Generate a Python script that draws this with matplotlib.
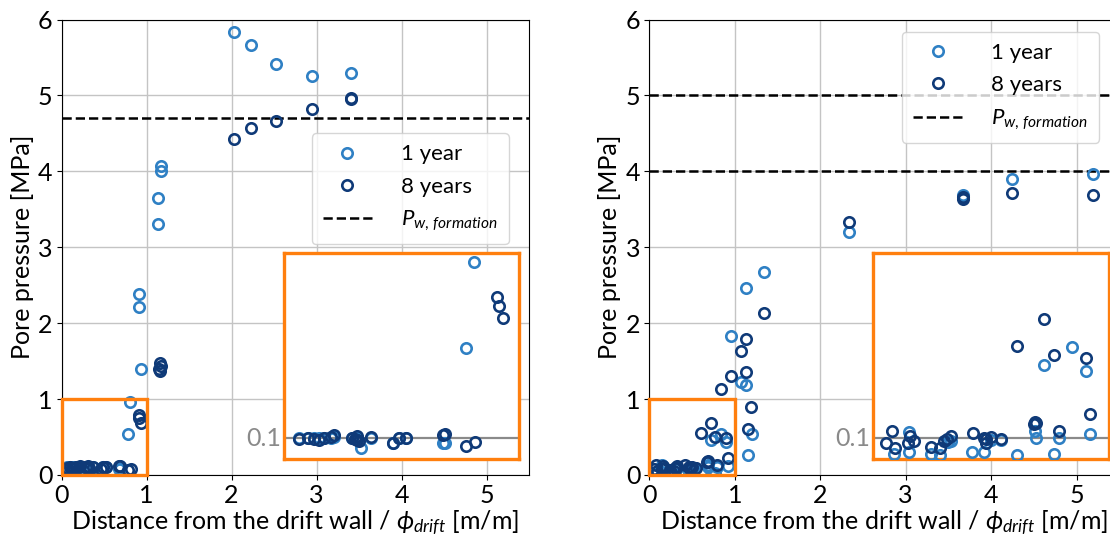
import matplotlib
matplotlib.use('Agg')
import matplotlib.pyplot as plt
from matplotlib.patches import Rectangle
from matplotlib.lines import Line2D

plt.rcParams['font.family'] = ['Lato', 'DejaVu Sans']
plt.rcParams['mathtext.fontset'] = 'custom'
plt.rcParams['mathtext.rm'] = 'Lato'
plt.rcParams['mathtext.it'] = 'Lato:italic'
plt.rcParams['mathtext.fallback'] = 'cm'

# ---------------- data ----------------
# left panel
left_1y_x = [2.03, 2.23, 2.52, 2.95, 3.40, 1.17, 1.17, 1.14, 1.13, 0.91, 0.91, 0.93,
             0.809, 0.776, 0.677, 0.687, 0.328,
             0.064, 0.10, 0.128, 0.15, 0.171, 0.20, 0.214, 0.29, 0.31, 0.37, 0.463, 0.49, 0.52]
left_1y_y = [5.83, 5.66, 5.41, 5.26, 5.30, 4.07, 4.01, 3.65, 3.30, 2.38, 2.21, 1.40,
             0.96, 0.54, 0.078, 0.08, 0.055,
             0.10, 0.10, 0.10, 0.10, 0.10, 0.10, 0.108, 0.10, 0.10, 0.10, 0.08, 0.10, 0.10]
left_8y_x = [2.03, 2.23, 2.52, 2.95, 3.40, 3.40, 1.16, 1.17, 1.15, 1.16,
             0.905, 0.916, 0.933, 0.813, 0.776, 0.677, 0.687,
             0.52, 0.49, 0.463, 0.37, 0.29, 0.30, 0.31, 0.32, 0.31,
             0.214, 0.20, 0.171, 0.15, 0.128, 0.10, 0.064]
left_8y_y = [4.43, 4.57, 4.66, 4.82, 4.97, 4.95, 1.48, 1.44, 1.40, 1.37,
             0.79, 0.745, 0.685, 0.084, 0.063, 0.115, 0.12,
             0.10, 0.10, 0.079, 0.108, 0.10, 0.098, 0.093, 0.088, 0.113,
             0.115, 0.107, 0.10, 0.095, 0.098, 0.10, 0.098]
left_pw = [4.7]

# right panel
right_1y_x = [2.34, 3.67, 4.25, 5.19, 1.345, 1.135, 0.955, 1.07, 1.134, 1.197, 1.15,
              0.841, 0.726, 0.902, 0.921, 0.685, 0.692, 0.789, 0.766, 0.61,
              0.47, 0.42, 0.328, 0.318, 0.285, 0.245, 0.153, 0.153, 0.089, 0.50, 0.54]
right_1y_y = [3.20, 3.69, 3.90, 3.96, 2.68, 2.46, 1.825, 1.23, 1.19, 0.544, 0.26,
              0.545, 0.456, 0.43, 0.123, 0.137, 0.10, 0.102, 0.027, 0.021,
              0.035, 0.033, 0.089, 0.083, 0.019, 0.024, 0.133, 0.033, 0.027, 0.093, 0.093]
right_8y_x = [2.34, 3.67, 3.67, 4.25, 5.19, 1.342, 1.134, 1.07, 0.955, 1.134, 0.84, 1.19, 1.15,
              0.725, 0.61, 0.766, 0.902, 0.921, 0.685, 0.692, 0.68, 0.789,
              0.543, 0.50, 0.48, 0.47, 0.48, 0.423, 0.328, 0.313, 0.302, 0.285, 0.245,
              0.172, 0.157, 0.146, 0.078, 0.054, 0.094]
right_8y_y = [3.33, 3.63, 3.66, 3.71, 3.69, 2.13, 1.79, 1.63, 1.307, 1.355, 1.13, 0.89, 0.60,
              0.683, 0.55, 0.506, 0.49, 0.221, 0.181, 0.173, 0.17, 0.134,
              0.097, 0.108, 0.098, 0.103, 0.08, 0.126, 0.113, 0.097, 0.086, 0.053, 0.06,
              0.089, 0.113, 0.077, 0.137, 0.077, 0.052]
right_pw = [5.0, 4.0]

xticks = [0, 1, 2, 3, 4, 5]
yticks = [0, 1, 2, 3, 4, 5, 6]

C1 = '#2f80c4'
C8 = '#0f3a78'
ORANGE = '#ff7f0e'
FS = 18
LFS = 16


def scatter(ax, x1, y1, x8, y8):
    ax.plot(x1, y1, 'o', ls='none', mfc='none', mec=C1, ms=7.5, mew=1.9, zorder=4)
    ax.plot(x8, y8, 'o', ls='none', mfc='none', mec=C8, ms=7.5, mew=1.9, zorder=5)


def panel(ax, x1, y1, x8, y8, pw, anchor):
    scatter(ax, x1, y1, x8, y8)
    for lv in pw:
        ax.axhline(lv, color='k', ls='--', lw=1.8, zorder=3)
    ax.set_xlim(0, 5.5)
    ax.set_ylim(0, 6)
    ax.set_xticks(xticks)
    ax.set_yticks(yticks)
    ax.grid(True, color='#c4c4c4', lw=1.0, zorder=0)
    ax.set_axisbelow(True)
    ax.tick_params(labelsize=FS, pad=3)
    ax.set_xlabel('Distance from the drift wall / $\\phi_{drift}$ [m/m]', fontsize=FS, labelpad=1)
    ax.set_ylabel('Pore pressure [MPa]', fontsize=FS, labelpad=3)
    ax.add_patch(Rectangle((0, 0), 1, 1, fill=False, ec=ORANGE, lw=2.4, zorder=6, clip_on=False))

    handles = [
        Line2D([], [], marker='o', ls='none', mfc='none', mec=C1, ms=7.5, mew=1.9),
        Line2D([], [], marker='o', ls='none', mfc='none', mec=C8, ms=7.5, mew=1.9),
        Line2D([], [], color='k', ls='--', lw=1.8),
    ]
    ax.legend(handles, ['1 year', '8 years', '$P_{w,\\, formation}$'],
              loc='upper left', bbox_to_anchor=anchor, borderaxespad=0,
              fontsize=LFS, handletextpad=1.3, handlelength=2.2, framealpha=0.8,
              labelspacing=0.55, borderpad=0.5)

    axin = ax.inset_axes([2.62, 0.21, 2.76, 2.71], transform=ax.transData)
    axin.set_zorder(7)
    scatter(axin, x1, y1, x8, y8)
    axin.axhline(0.1, color='#8a8a8a', lw=1.6, zorder=1)
    axin.set_xlim(0, 1)
    axin.set_ylim(0, 1)
    axin.set_xticks([])
    axin.set_yticks([])
    for s in axin.spines.values():
        s.set_edgecolor(ORANGE)
        s.set_linewidth(2.4)
    axin.text(-0.012, 0.1, '0.1', transform=axin.get_yaxis_transform(),
              ha='right', va='center', color='#8a8a8a', fontsize=FS)


fig = plt.figure(figsize=(11.1, 5.37), dpi=100)
ax1 = fig.add_axes([61.6 / 1110, 62 / 537, 467.4 / 1110, 455.5 / 537])
ax2 = fig.add_axes([649.3 / 1110, 62 / 537, 470 / 1110, 455.5 / 537])

panel(ax1, left_1y_x, left_1y_y, left_8y_x, left_8y_y, left_pw, (0.535, 0.75))
panel(ax2, right_1y_x, right_1y_y, right_8y_x, right_8y_y, right_pw, (0.5377, 0.973))

fig.savefig('out.png', dpi=100)
